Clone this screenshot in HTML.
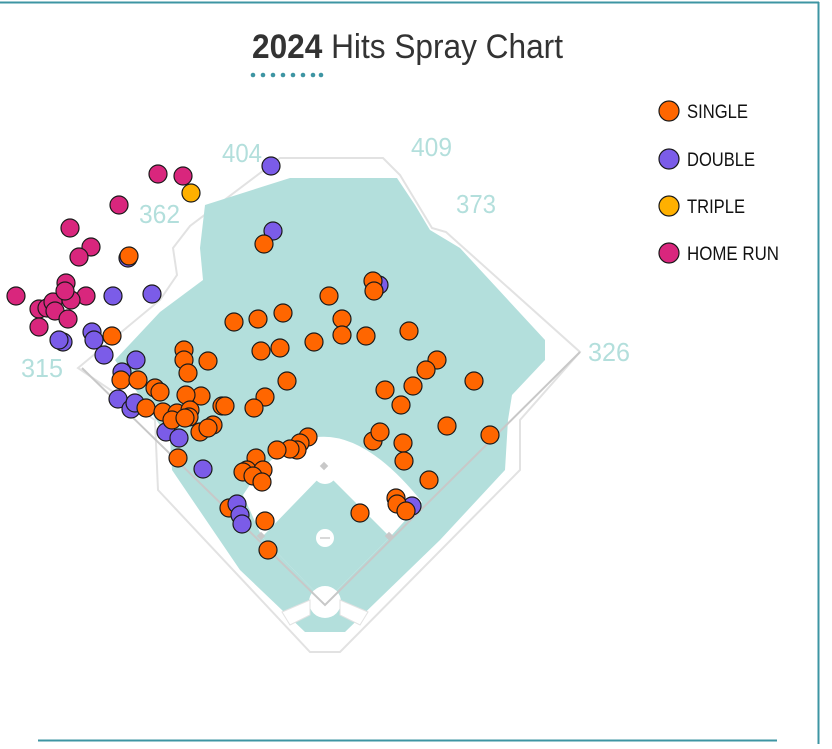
<!DOCTYPE html>
<html><head><meta charset="utf-8"><style>
body{margin:0;background:#fff;width:832px;height:744px;overflow:hidden;font-family:"Liberation Sans",sans-serif}
</style></head><body>
<svg width="832" height="744" viewBox="0 0 832 744" xmlns="http://www.w3.org/2000/svg">
<line x1="0" y1="2.5" x2="819" y2="2.5" stroke="#3e95a3" stroke-width="2"/>
<line x1="818.5" y1="2" x2="818.5" y2="744" stroke="#3e95a3" stroke-width="2"/>
<line x1="38" y1="740.5" x2="777" y2="740.5" stroke="#3e95a3" stroke-width="2"/>
<text x="252" y="58" font-size="34" fill="#333" textLength="311" lengthAdjust="spacingAndGlyphs"><tspan font-weight="bold">2024</tspan> Hits Spray Chart</text>
<g fill="#3e95a3"><circle cx="253" cy="75" r="2.3"/><circle cx="263" cy="75" r="2.3"/><circle cx="273" cy="75" r="2.3"/><circle cx="283" cy="75" r="2.3"/><circle cx="293" cy="75" r="2.3"/><circle cx="303" cy="75" r="2.3"/><circle cx="313" cy="75" r="2.3"/><circle cx="321" cy="75" r="2.3"/></g>
<path d="M78,368 L160,300 L177,275 L173,248 L190,226 L280,158 L383,158 L400,175 L432,228 L446,232 L580,352 L520,420 L520,470 L340,652 L310,652 L158,490 L155,420 Z" fill="#fff" stroke="#e2e2e2" stroke-width="2"/>
<path d="M200,248 L205,205 L290,178 L397,178 L415,205 L430,230 L460,248 L545,340 L545,360 L512,395 L508,420 L505,470 L440,540 L345,632 L305,632 L240,570 L172,470 L170,440 L115,360 L160,312 L203,280 Z" fill="#b3dfdc"/>
<path d="M243,495 Q320,375 422,502 L390,537 L325,602 L262,537 Z" fill="#fff"/>
<path d="M325,602 L390,537 L325,472 L262,537 Z" fill="#b3dfdc"/>
<circle cx="325" cy="472" r="12" fill="#fff"/>
<circle cx="325" cy="538" r="9" fill="#fff"/>
<line x1="320" y1="538" x2="330" y2="538" stroke="#ccc" stroke-width="1.5"/>
<circle cx="325" cy="602" r="16" fill="#fff"/>
<path d="M282,612 L310,600 L310,615 L290,625 Z M368,612 L340,600 L340,615 L360,625 Z" fill="#fff" stroke="#e2e2e2"/>
<g stroke="#c8c8c8" stroke-width="2" fill="none"><path d="M82,368 L325,605 L580,352"/></g>
<g fill="#c8c8c8"><rect x="321" y="463" width="6" height="6" transform="rotate(45 324 466)"/><rect x="386" y="533" width="6" height="6" transform="rotate(45 389 536)"/><rect x="258" y="533" width="6" height="6" transform="rotate(45 261 536)"/></g>
<g font-size="26" fill="#b3dfdc" lengthAdjust="spacingAndGlyphs"><text x="222" y="162" textLength="40" lengthAdjust="spacingAndGlyphs">404</text><text x="411" y="156" textLength="41" lengthAdjust="spacingAndGlyphs">409</text><text x="139" y="223" textLength="41" lengthAdjust="spacingAndGlyphs">362</text><text x="456" y="213" textLength="40" lengthAdjust="spacingAndGlyphs">373</text><text x="21" y="377" textLength="42" lengthAdjust="spacingAndGlyphs">315</text><text x="588" y="361" textLength="42" lengthAdjust="spacingAndGlyphs">326</text></g>
<g stroke="#1a1a1a" stroke-width="1.2">
<g fill="#7b5ce8">
<circle cx="271" cy="166" r="9"/><circle cx="273" cy="231" r="9"/><circle cx="128" cy="258" r="9"/><circle cx="379" cy="285" r="9"/><circle cx="113" cy="296" r="9"/><circle cx="152" cy="294" r="9"/><circle cx="92" cy="332" r="9"/><circle cx="94" cy="340" r="9"/><circle cx="63" cy="342" r="9"/><circle cx="59" cy="340" r="9"/><circle cx="104" cy="355" r="9"/><circle cx="136" cy="360" r="9"/><circle cx="122" cy="372" r="9"/><circle cx="118" cy="399" r="9"/><circle cx="131" cy="409" r="9"/><circle cx="135" cy="403" r="9"/><circle cx="166" cy="432" r="9"/><circle cx="179" cy="438" r="9"/><circle cx="203" cy="469" r="9"/><circle cx="412" cy="506" r="9"/>
</g>
<g fill="#ff6600">
<circle cx="264" cy="244" r="9"/><circle cx="129" cy="256" r="9"/><circle cx="373" cy="281" r="9"/><circle cx="374" cy="291" r="9"/><circle cx="329" cy="296" r="9"/><circle cx="283" cy="313" r="9"/><circle cx="258" cy="319" r="9"/><circle cx="234" cy="322" r="9"/><circle cx="342" cy="319" r="9"/><circle cx="409" cy="331" r="9"/><circle cx="342" cy="335" r="9"/><circle cx="366" cy="336" r="9"/><circle cx="314" cy="342" r="9"/><circle cx="112" cy="336" r="9"/><circle cx="184" cy="350" r="9"/><circle cx="184" cy="360" r="9"/><circle cx="261" cy="351" r="9"/><circle cx="280" cy="348" r="9"/><circle cx="208" cy="361" r="9"/><circle cx="188" cy="373" r="9"/><circle cx="437" cy="360" r="9"/><circle cx="426" cy="370" r="9"/><circle cx="474" cy="381" r="9"/><circle cx="121" cy="380" r="9"/><circle cx="138" cy="380" r="9"/><circle cx="155" cy="388" r="9"/><circle cx="160" cy="392" r="9"/><circle cx="287" cy="381" r="9"/><circle cx="413" cy="386" r="9"/><circle cx="385" cy="390" r="9"/><circle cx="201" cy="396" r="9"/><circle cx="186" cy="395" r="9"/><circle cx="265" cy="397" r="9"/><circle cx="254" cy="408" r="9"/><circle cx="401" cy="405" r="9"/><circle cx="222" cy="406" r="9"/><circle cx="225" cy="406" r="9"/><circle cx="146" cy="408" r="9"/><circle cx="163" cy="412" r="9"/><circle cx="177" cy="413" r="9"/><circle cx="190" cy="410" r="9"/><circle cx="189" cy="417" r="9"/><circle cx="172" cy="420" r="9"/><circle cx="185" cy="418" r="9"/><circle cx="213" cy="425" r="9"/><circle cx="200" cy="432" r="9"/><circle cx="208" cy="428" r="9"/><circle cx="447" cy="426" r="9"/><circle cx="490" cy="435" r="9"/><circle cx="373" cy="441" r="9"/><circle cx="380" cy="432" r="9"/><circle cx="403" cy="443" r="9"/><circle cx="308" cy="437" r="9"/><circle cx="300" cy="443" r="9"/><circle cx="297" cy="450" r="9"/><circle cx="290" cy="449" r="9"/><circle cx="277" cy="450" r="9"/><circle cx="178" cy="458" r="9"/><circle cx="404" cy="461" r="9"/><circle cx="256" cy="458" r="9"/><circle cx="247" cy="470" r="9"/><circle cx="243" cy="472" r="9"/><circle cx="263" cy="470" r="9"/><circle cx="253" cy="476" r="9"/><circle cx="262" cy="482" r="9"/><circle cx="429" cy="480" r="9"/><circle cx="396" cy="498" r="9"/><circle cx="397" cy="504" r="9"/><circle cx="406" cy="511" r="9"/><circle cx="360" cy="513" r="9"/><circle cx="229" cy="508" r="9"/><circle cx="265" cy="521" r="9"/><circle cx="268" cy="550" r="9"/>
</g>
<g fill="#7b5ce8"><circle cx="237" cy="504" r="9"/><circle cx="240" cy="515" r="9"/><circle cx="242" cy="524" r="9"/></g>
<circle cx="191" cy="193" r="9" fill="#ffb000"/>
<g fill="#d9267d">
<circle cx="158" cy="174" r="9"/><circle cx="183" cy="176" r="9"/><circle cx="119" cy="205" r="9"/><circle cx="70" cy="228" r="9"/><circle cx="91" cy="247" r="9"/><circle cx="79" cy="257" r="9"/><circle cx="66" cy="283" r="9"/><circle cx="16" cy="296" r="9"/><circle cx="86" cy="296" r="9"/><circle cx="39" cy="309" r="9"/><circle cx="47" cy="308" r="9"/><circle cx="53" cy="302" r="9"/><circle cx="71" cy="300" r="9"/><circle cx="55" cy="311" r="9"/><circle cx="65" cy="291" r="9"/><circle cx="68" cy="319" r="9"/><circle cx="39" cy="327" r="9"/>
</g>
<circle cx="669" cy="111" r="10" fill="#ff6600"/><circle cx="669" cy="159" r="10" fill="#7b5ce8"/><circle cx="669" cy="206" r="10" fill="#ffb000"/><circle cx="669" cy="253" r="10" fill="#d9267d"/>
</g>
<g font-size="19" fill="#111"><text x="687" y="118" textLength="61" lengthAdjust="spacingAndGlyphs">SINGLE</text><text x="687" y="166" textLength="68" lengthAdjust="spacingAndGlyphs">DOUBLE</text><text x="687" y="213" textLength="58" lengthAdjust="spacingAndGlyphs">TRIPLE</text><text x="687" y="260" textLength="92" lengthAdjust="spacingAndGlyphs">HOME RUN</text></g>
</svg>
</body></html>
